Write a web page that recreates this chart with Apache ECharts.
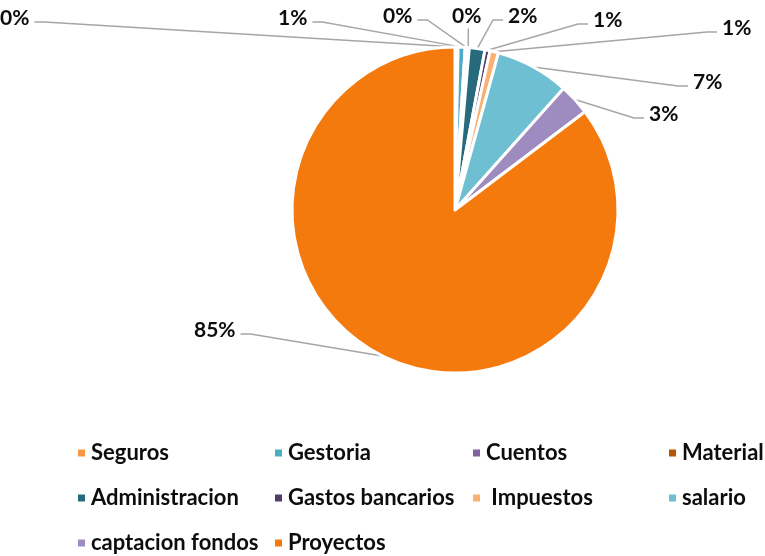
<!DOCTYPE html>
<html>
<head>
<meta charset="utf-8">
<script src="https://cdn.jsdelivr.net/npm/echarts@6/dist/echarts.min.js"></script>
<style>
html,body{margin:0;padding:0;background:#fff;}
#chart{width:765px;height:556px;}
</style>
</head>
<body>
<div id="chart"></div>
<script>
// Data
var categories = ['Seguros', 'Gestoria', 'Cuentos', 'Material', 'Administracion', 'Gastos bancarios', ' Impuestos', 'salario', 'captacion fondos', 'Proyectos'];
var values = [0.3, 0.7, 0.2, 0.2, 1.55, 0.5, 0.85, 7.3, 3.1, 85.3];
var colors = ['#F79646', '#4BACC6', '#8064A2', '#B65708', '#276A7C', '#4F3D63', '#FAB070', '#6FBFD3', '#9E8BC0', '#F47A0E'];

// Legend columns (names per column)
var legendCols = [
  ['Seguros', 'Administracion', 'captacion fondos'],
  ['Gestoria', 'Gastos bancarios', 'Proyectos'],
  ['Cuentos', ' Impuestos'],
  ['Material', 'salario']
];
var legendLeft = [71, 268, 466, 662];

// Label placement (left x, middle y) - layout only
var labelPos = [[0,18],[278,18],[383,16],[452,16],[508,16],[593,20],[722,28],[693,82],[649,114],[194,330]];

var total = values.reduce(function(a,b){return a+b;},0);
var FONT = 'Lato';

var chart = echarts.init(document.getElementById('chart'), null, {renderer:'canvas'});

var legends = legendCols.map(function(col, i){
  return {
    orient: 'vertical',
    left: legendLeft[i],
    top: 437,
    height: 140,
    itemGap: 23,
    itemWidth: 9,
    itemHeight: 9,
    icon: 'rect',
    selectedMode: false,
    data: col,
    textStyle: {fontFamily: FONT, fontWeight: 'bold', fontSize: 22, color: '#0d0d0d'}
  };
});

var option = {
  animation: false,
  backgroundColor: '#fff',
  legend: legends,
  series: [{
    type: 'pie',
    center: [455, 210],
    radius: 163,
    startAngle: 90,
    clockwise: true,
    avoidLabelOverlap: false,
    minShowLabelAngle: 0,
    data: categories.map(function(n, i){
      return {name: n, value: values[i], itemStyle: {color: colors[i]}};
    }),
    itemStyle: {borderColor: '#fff', borderWidth: 3},
    label: {
      show: true,
      position: 'outside',
      fontFamily: FONT,
      fontWeight: 'bold',
      fontSize: 21,
      color: '#0d0d0d',
      formatter: function(p){ return Math.round(p.value / total * 100) + '%'; }
    },
    labelLine: {show: true, length: 5, length2: 5, lineStyle: {color: '#a6a6a6', width: 1.5}},
    emphasis: {disabled: true},
    labelLayout: function(params){
      var pos = labelPos[params.dataIndex];
      var w = params.labelRect.width, h = params.labelRect.height;
      var lx = pos[0], ly = pos[1];
      var res = {x: lx, y: ly, align: 'left', verticalAlign: 'middle'};
      var pts = params.labelLinePoints;
      if (pts && pts.length) {
        var p0 = pts[0];
        var end, mid;
        if (p0[0] > lx + w + 8) {
          end = [lx + w + 5, ly + 4];
          mid = [end[0] + 10, end[1]];
        } else if (p0[0] < lx - 8) {
          end = [lx - 5, ly + 4];
          mid = [end[0] - 10, end[1]];
        } else {
          end = [p0[0], ly + h / 2 + 2];
          mid = [p0[0], ly + h / 2 + 2];
        }
        res.labelLinePoints = [[p0[0], p0[1]], mid, end];
      }
      return res;
    }
  }]
};
chart.setOption(option);
</script>
</body>
</html>
